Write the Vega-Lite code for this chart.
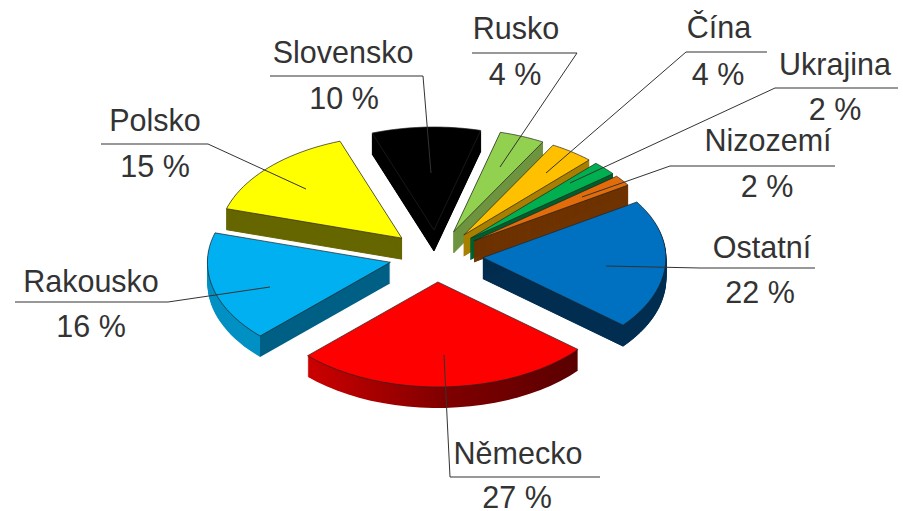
{
"$schema":"https://vega.github.io/schema/vega-lite/v6.json",
"width":903,"height":511,"padding":0,
"autosize":{"type":"none"},
"background":"white",
"view":{"stroke":null},
"data":{"values":[
{"zeme":"Německo","poradi":1,"podil":27,"vysec":26.5,"stitek":"27 %","tx":518,"ty":464,"vx":517,"vy":508,"u0":450,"u1":600,"uy":477,"ex":450,"ey":477,"lx":444,"ly":355},
{"zeme":"Rakousko","poradi":2,"podil":16,"vysec":17,"stitek":"16 %","tx":91,"ty":292,"vx":91,"vy":337,"u0":15,"u1":168,"uy":302,"ex":168,"ey":302,"lx":270,"ly":287},
{"zeme":"Polsko","poradi":3,"podil":15,"vysec":14.9,"stitek":"15 %","tx":155,"ty":131,"vx":155,"vy":177,"u0":101,"u1":208,"uy":144,"ex":208,"ey":144,"lx":306,"ly":189},
{"zeme":"Slovensko","poradi":4,"podil":10,"vysec":9.6,"stitek":"10 %","tx":343,"ty":63,"vx":344,"vy":109,"u0":270,"u1":423,"uy":76,"ex":423,"ey":76,"lx":431,"ly":173},
{"zeme":"Rusko","poradi":5,"podil":4,"vysec":4,"stitek":"4 %","tx":516,"ty":39,"vx":515,"vy":85,"u0":472,"u1":577,"uy":53,"ex":577,"ey":53,"lx":500,"ly":167},
{"zeme":"Čína","poradi":6,"podil":4,"vysec":3.9,"stitek":"4 %","tx":719,"ty":38,"vx":718,"vy":85,"u0":686,"u1":767,"uy":52,"ex":686,"ey":52,"lx":546,"ly":173},
{"zeme":"Ukrajina","poradi":7,"podil":2,"vysec":2.2,"stitek":"2 %","tx":835,"ty":75,"vx":835,"vy":120,"u0":775,"u1":898,"uy":88,"ex":775,"ey":88,"lx":570,"ly":183},
{"zeme":"Nizozemí","poradi":8,"podil":2,"vysec":1.7,"stitek":"2 %","tx":768,"ty":151,"vx":767,"vy":197,"u0":670,"u1":835,"uy":166,"ex":670,"ey":166,"lx":582,"ly":197},
{"zeme":"Ostatní","poradi":9,"podil":22,"vysec":20.2,"stitek":"22 %","tx":762,"ty":258,"vx":760,"vy":303,"u0":700,"u1":815,"uy":268,"ex":700,"ey":268,"lx":606,"ly":266}
]},
"transform":[
{"stack":"vysec","groupby":[],"sort":[{"field":"poradi","order":"ascending"}],"as":["s0","s1"]},
{"calculate":"(130+datum.s0*3.6)*PI/180","as":"a0"},
{"calculate":"(130+datum.s1*3.6)*PI/180","as":"a1"},
{"calculate":"(datum.a0+datum.a1)/2","as":"am"},
{"calculate":"436+47*sin(datum.am)","as":"ax"},
{"calculate":"256-26*cos(datum.am)","as":"ay"}
],
"layer":[
{"transform":[
 {"filter":"datum.poradi>2"},
 {"calculate":"sequence(1,22)","as":"d"},{"flatten":["d"]},
 {"calculate":"sequence(-1,25)","as":"t"},{"flatten":["t"]},
 {"calculate":"datum.a0+(datum.a1-datum.a0)*datum.t/24","as":"a"},
 {"calculate":"datum.t<0?datum.ax:datum.ax+183*sin(datum.a)","as":"px"},
 {"calculate":"datum.d+(datum.t<0?datum.ay:datum.ay-(cos(datum.a)>0?103:105)*cos(datum.a))","as":"py"},
 {"calculate":"datum.zeme+datum.d","as":"k"}
 ],
 "mark":{"type":"line","interpolate":"linear-closed","strokeWidth":1},
 "encoding":{
  "x":{"field":"px","type":"quantitative","axis":null,"scale":{"domain":[0,903],"nice":false,"zero":false}},
  "y":{"field":"py","type":"quantitative","axis":null,"scale":{"domain":[511,0],"nice":false,"zero":false}},
  "order":{"field":"t","type":"quantitative"},
  "detail":{"field":"k"},
  "fill":{"field":"zeme","type":"nominal","legend":null,"scale":{"domain":["Polsko","Slovensko","Rusko","Čína","Ukrajina","Nizozemí","Ostatní"],"range":["#666600","#000000","#6f9440","#a87f00","#005f2c","#6e3300","#002d50"]}},
  "stroke":{"field":"zeme","type":"nominal","legend":null,"scale":{"domain":["Polsko","Slovensko","Rusko","Čína","Ukrajina","Nizozemí","Ostatní"],"range":["#666600","#000000","#6f9440","#a87f00","#005f2c","#6e3300","#002d50"]}}
 }},
{"transform":[
 {"filter":"datum.poradi==1"},
 {"calculate":"sequence(1,22)","as":"d"},{"flatten":["d"]},
 {"calculate":"sequence(-1,25)","as":"t"},{"flatten":["t"]},
 {"calculate":"datum.a0+(datum.a1-datum.a0)*datum.t/24","as":"a"},
 {"calculate":"datum.t<0?datum.ax:datum.ax+183*sin(datum.a)","as":"px"},
 {"calculate":"datum.d+(datum.t<0?datum.ay:datum.ay-(cos(datum.a)>0?103:105)*cos(datum.a))","as":"py"},
 {"calculate":"datum.zeme+datum.d","as":"k"}
 ],
 "mark":{"type":"line","interpolate":"linear-closed","strokeWidth":0,
  "fill":{"gradient":"linear","x1":0,"y1":0,"x2":1,"y2":0,"stops":[{"offset":0,"color":"#cc0000"},{"offset":0.5,"color":"#800000"},{"offset":1,"color":"#5a0000"}]}},
 "encoding":{
  "x":{"field":"px","type":"quantitative","axis":null},
  "y":{"field":"py","type":"quantitative","axis":null},
  "order":{"field":"t","type":"quantitative"},
  "detail":{"field":"k"}
 }},
{"transform":[
 {"filter":"datum.poradi==2"},
 {"calculate":"sequence(1,22)","as":"d"},{"flatten":["d"]},
 {"calculate":"sequence(-1,25)","as":"t"},{"flatten":["t"]},
 {"calculate":"datum.a0+(datum.a1-datum.a0)*datum.t/24","as":"a"},
 {"calculate":"datum.t<0?datum.ax:datum.ax+183*sin(datum.a)","as":"px"},
 {"calculate":"datum.d+(datum.t<0?datum.ay:datum.ay-(cos(datum.a)>0?103:105)*cos(datum.a))","as":"py"},
 {"calculate":"datum.zeme+datum.d","as":"k"}
 ],
 "mark":{"type":"line","interpolate":"linear-closed","strokeWidth":0,
  "fill":{"gradient":"linear","x1":0,"y1":0,"x2":1,"y2":0,"stops":[{"offset":0,"color":"#0090c4"},{"offset":0.285,"color":"#0090c4"},{"offset":0.29,"color":"#005f85"},{"offset":1,"color":"#005f85"}]}},
 "encoding":{
  "x":{"field":"px","type":"quantitative","axis":null},
  "y":{"field":"py","type":"quantitative","axis":null},
  "order":{"field":"t","type":"quantitative"},
  "detail":{"field":"k"}
 }},
{"transform":[
 {"calculate":"sequence(-1,25)","as":"t"},{"flatten":["t"]},
 {"calculate":"datum.a0+(datum.a1-datum.a0)*datum.t/24","as":"a"},
 {"calculate":"datum.t<0?datum.ax:datum.ax+183*sin(datum.a)","as":"px"},
 {"calculate":"datum.t<0?datum.ay:datum.ay-(cos(datum.a)>0?103:105)*cos(datum.a)","as":"py"}
 ],
 "mark":{"type":"line","interpolate":"linear-closed","strokeWidth":0.7,"stroke":"#222222"},
 "encoding":{
  "x":{"field":"px","type":"quantitative","axis":null},
  "y":{"field":"py","type":"quantitative","axis":null},
  "order":{"field":"t","type":"quantitative"},
  "detail":{"field":"zeme"},
  "fill":{"field":"zeme","type":"nominal","legend":null,"scale":{"domain":["Německo","Rakousko","Polsko","Slovensko","Rusko","Čína","Ukrajina","Nizozemí","Ostatní"],"range":["#ff0000","#00b0f0","#ffff00","#000000","#92d050","#ffc000","#00b050","#e36c0a","#0070c0"]}}
 }},
{"mark":{"type":"rule","stroke":"#333333","strokeWidth":1.2},
 "encoding":{"x":{"field":"u0","type":"quantitative"},"x2":{"field":"u1"},"y":{"field":"uy","type":"quantitative"}}},
{"mark":{"type":"rule","stroke":"#333333","strokeWidth":1},
 "encoding":{"x":{"field":"ex","type":"quantitative"},"x2":{"field":"lx"},"y":{"field":"ey","type":"quantitative"},"y2":{"field":"ly"}}},
{"mark":{"type":"text","font":"Liberation Sans","fontSize":30.5,"fill":"#333333","align":"center","baseline":"alphabetic"},
 "encoding":{"x":{"field":"tx","type":"quantitative"},"y":{"field":"ty","type":"quantitative"},"text":{"field":"zeme"}}},
{"mark":{"type":"text","font":"Liberation Sans","fontSize":30.5,"fill":"#333333","align":"center","baseline":"alphabetic"},
 "encoding":{"x":{"field":"vx","type":"quantitative"},"y":{"field":"vy","type":"quantitative"},"text":{"field":"stitek"}}}
],
"resolve":{"scale":{"fill":"independent","stroke":"independent"}}
}
